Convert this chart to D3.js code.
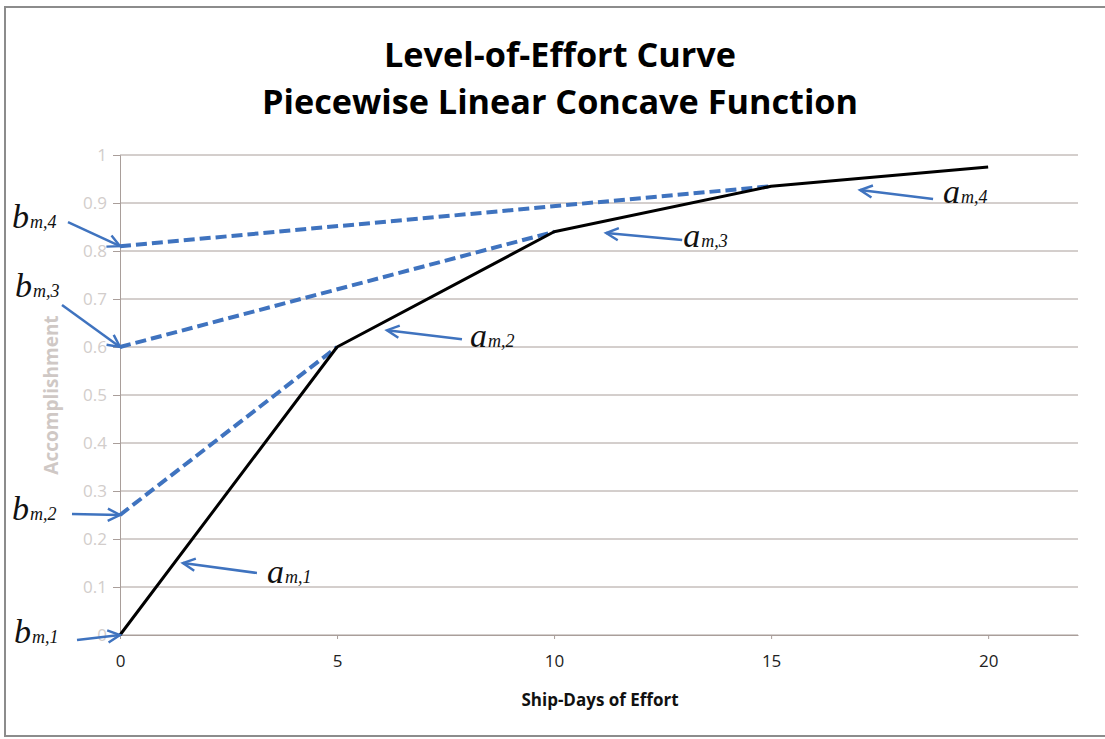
<!DOCTYPE html>
<html>
<head>
<meta charset="utf-8">
<script src="https://cdn.jsdelivr.net/npm/d3@7"></script>
<style>
  body { margin: 0; background: #fff; }
  svg { display: block; }
</style>
</head>
<body>
<svg id="chart" width="1105" height="739"></svg>
<script>
// effort curve (black) and tangent extensions (dashed)
const effortX = [0, 5, 10, 15, 20];
const accomplishment = [0, 0.6, 0.84, 0.935, 0.975];

const tangents = [
  [[0, 0.25], [5, 0.6]],
  [[0, 0.6], [10, 0.84]],
  [[0, 0.81], [15, 0.935]]
];

const xTicks = [0, 5, 10, 15, 20];
const yTicks = [0, 0.1, 0.2, 0.3, 0.4, 0.5, 0.6, 0.7, 0.8, 0.9, 1];

// intercept labels b(m,i) and slope labels a(m,i)
const bLabels = ["1", "2", "3", "4"];
const bValues = [0, 0.25, 0.6, 0.81];
const aLabels = ["1", "2", "3", "4"];
const aPoints = [[1.45, 0.15], [6.15, 0.635], [11.2, 0.8375], [17.05, 0.927]];

// pixel offsets for arrow tails / label text (layout only)
const bTail = [[-43, 5], [-48, -1], [-58, -42], [-52, -24]];
const bText = [[-106, 8], [-108, 5], [-105, -50], [-108, -18]];
const aTail = [[74, 10], [75, 9], [76, 7], [73, 9]];
const aText = [[84, 20], [83, 17], [77, 14], [83, 13]];

const width = 1105, height = 739;
const margin = { left: 120, right: 27, top: 155, bottom: 104 };
const svg = d3.select("#chart");

const x = d3.scaleLinear().domain([0, 22.07]).range([margin.left, width - margin.right]);
const y = d3.scaleLinear().domain([0, 1]).range([height - margin.bottom, margin.top]);

const blue = "#3f73bf";
const grid = "#a99e9a";

// frame
svg.append("rect")
  .attr("x", 5).attr("y", 7).attr("width", 1110).attr("height", 729)
  .attr("fill", "none").attr("stroke", "#8c8c8c").attr("stroke-width", 2);

svg.append("defs").append("marker")
  .attr("id", "arrow")
  .attr("viewBox", "0 0 12 12")
  .attr("refX", 10).attr("refY", 6)
  .attr("markerWidth", 6.5).attr("markerHeight", 6.5)
  .attr("markerUnits", "strokeWidth")
  .attr("orient", "auto")
  .append("path")
  .attr("d", "M1,1.5 L10,6 L1,10.5")
  .attr("fill", "none").attr("stroke", blue).attr("stroke-width", 1.8);

// gridlines
svg.append("g")
  .selectAll("line")
  .data(yTicks)
  .join("line")
  .attr("x1", x(0)).attr("x2", x.range()[1])
  .attr("y1", d => y(d)).attr("y2", d => y(d))
  .attr("stroke", grid).attr("stroke-width", 1);

// y axis
const yAxis = svg.append("g")
  .attr("transform", `translate(${x(0)},0)`)
  .call(d3.axisLeft(y).tickValues(yTicks).tickSize(7).tickPadding(6)
    .tickFormat(d => d === 0 ? "0" : d === 1 ? "1" : d3.format(".1f")(d)));
yAxis.select(".domain").attr("stroke", grid);
yAxis.selectAll(".tick line").attr("stroke", grid);
yAxis.selectAll(".tick text")
  .attr("fill", "#d2cdcb")
  .attr("font-family", "Open Sans, sans-serif")
  .attr("font-size", 17);

// x axis
const xAxis = svg.append("g")
  .attr("transform", `translate(0,${y(0)})`)
  .call(d3.axisBottom(x).tickValues(xTicks).tickSize(4).tickSizeOuter(0).tickPadding(16));
xAxis.select(".domain").attr("stroke", grid);
xAxis.selectAll(".tick line").attr("stroke", grid);
xAxis.selectAll(".tick text")
  .attr("fill", "#222")
  .attr("font-family", "Open Sans, sans-serif")
  .attr("font-size", 17);

// titles
svg.append("text")
  .attr("x", 560).attr("y", 67)
  .attr("text-anchor", "middle")
  .attr("font-family", "Open Sans, sans-serif").attr("font-weight", "bold")
  .attr("font-size", 34)
  .attr("textLength", 352).attr("lengthAdjust", "spacingAndGlyphs")
  .text("Level-of-Effort Curve");
svg.append("text")
  .attr("x", 560).attr("y", 114)
  .attr("text-anchor", "middle")
  .attr("font-family", "Open Sans, sans-serif").attr("font-weight", "bold")
  .attr("font-size", 34)
  .attr("textLength", 596).attr("lengthAdjust", "spacingAndGlyphs")
  .text("Piecewise Linear Concave Function");

svg.append("text")
  .attr("x", 600).attr("y", 706)
  .attr("text-anchor", "middle")
  .attr("font-family", "Open Sans, sans-serif").attr("font-weight", "bold")
  .attr("font-size", 17)
  .attr("fill", "#111")
  .text("Ship-Days of Effort");

svg.append("text")
  .attr("transform", `translate(58,${(y(0) + y(1)) / 2}) rotate(-90)`)
  .attr("text-anchor", "middle")
  .attr("font-family", "Open Sans, sans-serif").attr("font-weight", "bold")
  .attr("font-size", 19)
  .attr("fill", "#cfc8c5")
  .text("Accomplishment");

// dashed tangents
const line = d3.line().x(d => x(d[0])).y(d => y(d[1]));
svg.append("g")
  .selectAll("path")
  .data(tangents)
  .join("path")
  .attr("d", line)
  .attr("fill", "none")
  .attr("stroke", blue)
  .attr("stroke-width", 4)
  .attr("stroke-dasharray", "11,5");

// effort curve
svg.append("path")
  .datum(effortX.map((d, i) => [d, accomplishment[i]]))
  .attr("d", line)
  .attr("fill", "none")
  .attr("stroke", "#000")
  .attr("stroke-width", 3)
  .attr("stroke-linejoin", "round");

// annotation helper
function annotate(letter, sub, hx, hy, tail, txt) {
  svg.append("line")
    .attr("x1", hx + tail[0]).attr("y1", hy + tail[1])
    .attr("x2", hx).attr("y2", hy)
    .attr("stroke", blue).attr("stroke-width", 2.5)
    .attr("marker-end", "url(#arrow)");
  const t = svg.append("text")
    .attr("x", hx + txt[0]).attr("y", hy + txt[1])
    .attr("font-family", "Liberation Serif, serif")
    .attr("font-style", "italic")
    .attr("fill", "#111");
  t.append("tspan").attr("font-size", 34).text(letter);
  t.append("tspan").attr("font-size", 18).attr("dx", 1).text("m," + sub);
}

bValues.forEach((v, i) => annotate("b", bLabels[i], x(0), y(v), bTail[i], bText[i]));
aPoints.forEach((p, i) => annotate("a", aLabels[i], x(p[0]), y(p[1]), aTail[i], aText[i]));
</script>
</body>
</html>
